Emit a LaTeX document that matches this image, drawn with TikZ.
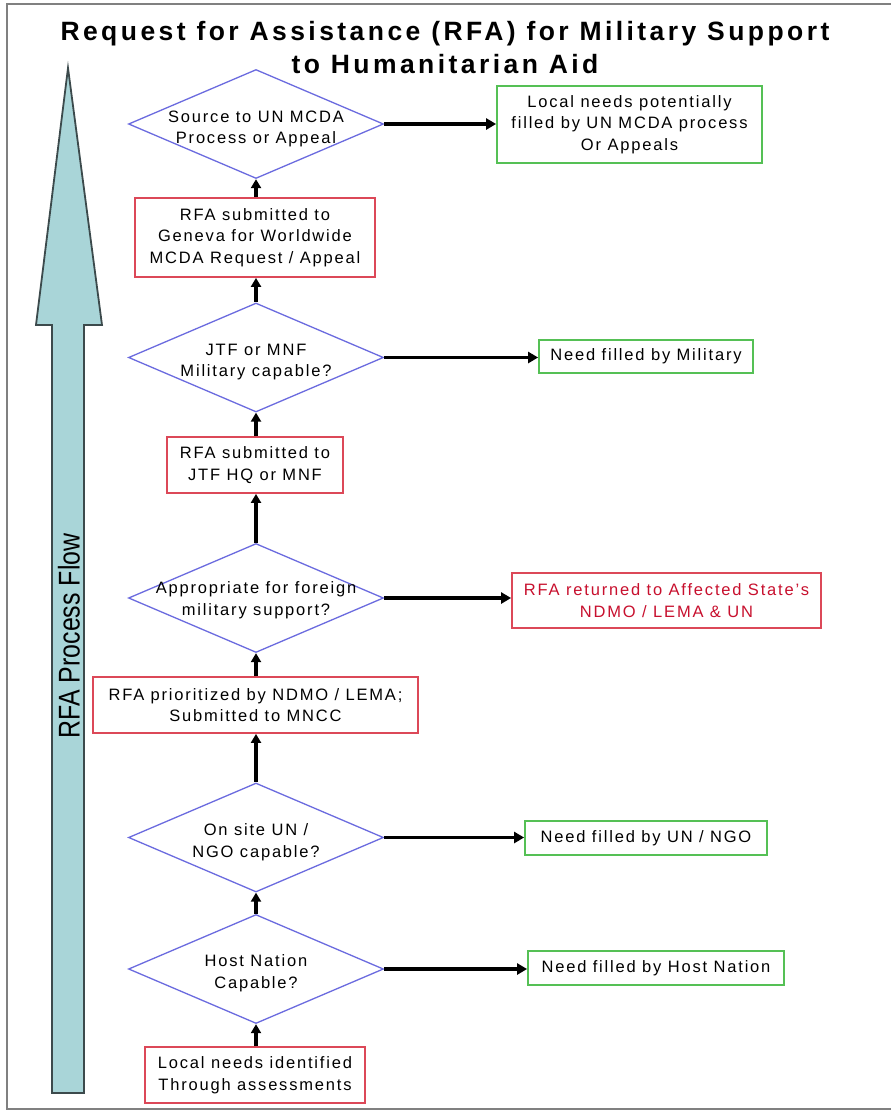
\documentclass[tikz,border=0pt]{standalone}
\usepackage{fontspec}
\setmainfont{Liberation Sans}[LetterSpace=11]
\usetikzlibrary{shapes.geometric,arrows.meta}
\definecolor{boxred}{HTML}{DC4858}
\definecolor{boxgreen}{HTML}{55C055}
\definecolor{diablue}{HTML}{6B6BDF}
\definecolor{txtred}{HTML}{C8102E}
\definecolor{flowfill}{HTML}{A9D5D8}
\definecolor{flowline}{HTML}{3C4A4C}
\definecolor{framegray}{HTML}{808080}
\begin{document}
\begin{tikzpicture}[x=1pt,y=-1pt,
  redbox/.style={draw=boxred, line width=1.8pt, rectangle, inner sep=0pt, align=center,
     font=\fontsize{16.5}{21.5}\selectfont},
  greenbox/.style={draw=boxgreen, line width=1.8pt, rectangle, inner sep=0pt, align=center,
     font=\fontsize{16.5}{21.5}\selectfont},
  dia/.style={draw=diablue, line width=1.3pt, diamond, inner sep=0pt,
     minimum width=255pt, minimum height=109pt},
  diatext/.style={align=center, inner sep=0pt, font=\fontsize{16.5}{21.5}\selectfont},
  conn/.style={draw=black, line width=3.2pt, -{Triangle[length=10pt,width=11pt]}},
  upconn/.style={draw=black, line width=3.2pt, -{Triangle[length=9pt,width=10pt]}}
]
\useasboundingbox (0,0) rectangle (891,1111);
\fill[white] (0,0) rectangle (891,1111);
\draw[framegray, line width=1.2pt] (891,4) -- (7,4) -- (7,1109) -- (891,1109);

% title
\node[align=center, font=\bfseries\fontsize{26.5}{33}\selectfont\addfontfeature{LetterSpace=13}] (title) at (445,48)
  {Request for Assistance (RFA) for Military Support\\to Humanitarian Aid};

% big process arrow
\draw[fill=flowfill, draw=flowline, line width=1.8pt, line join=miter]
  (68,68) -- (102,325) -- (84,325) -- (84,1093) -- (52,1093) -- (52,325) -- (36,325) -- cycle;
\node[rotate=90, inner sep=0pt] (flow) at (69,636)
  {\scalebox{0.83}[1]{\fontsize{30}{30}\selectfont\addfontfeature{LetterSpace=0}RFA Process Flow}};

% diamonds
\node[dia] (d1) at (256,124) {};
\node[diatext] (d1t) at (256,129) {Source to UN MCDA\\Process or Appeal};
\node[dia] (d2) at (256,357.5) {};
\node[diatext] (d2t) at (256,362) {JTF or MNF\\Military capable?};
\node[dia] (d3) at (256,598) {};
\node[diatext] (d3t) at (256,600) {Appropriate for foreign\\military support?};
\node[dia] (d4) at (256,837.5) {};
\node[diatext] (d4t) at (256,842) {On site UN /\\NGO capable?};
\node[dia] (d5) at (256,969) {};
\node[diatext] (d5t) at (256,973) {Host Nation\\Capable?};

% boxes
\node[greenbox, minimum width=265pt, minimum height=77pt] (bmcda) at (629.5,124.5)
  {Local needs potentially\\filled by UN MCDA process\\Or Appeals};
\node[redbox, minimum width=240pt, minimum height=79pt] (bgen) at (255,237.5)
  {RFA submitted to\\Geneva for Worldwide\\MCDA Request / Appeal};
\node[greenbox, minimum width=214pt, minimum height=33pt] (bmil) at (646,356.5)
  {Need filled by Military};
\node[redbox, minimum width=176pt, minimum height=56pt] (bjtf) at (255,465)
  {RFA submitted to\\JTF HQ or MNF};
\node[redbox, minimum width=309pt, minimum height=55pt, text=txtred] (bret) at (666.5,600.5)
  {RFA returned to Affected State's\\NDMO / LEMA \& UN};
\node[redbox, minimum width=325pt, minimum height=56pt] (bprio) at (255.5,705)
  {RFA prioritized by NDMO / LEMA;\\Submitted to MNCC};
\node[greenbox, minimum width=242pt, minimum height=34pt] (bungo) at (646,838)
  {Need filled by UN / NGO};
\node[greenbox, minimum width=256pt, minimum height=34pt] (bhn) at (656,968)
  {Need filled by Host Nation};
\node[redbox, minimum width=220pt, minimum height=56pt] (bloc) at (255,1075)
  {Local needs identified\\Through assessments};

% vertical (upward) connectors
\draw[upconn] (bloc.north -| d5.south) -- (d5.south);
\draw[upconn] (d5.north) -- (d4.south);
\draw[upconn] (d4.north) -- (d4.north |- bprio.south);
\draw[upconn] (bprio.north -| d3.south) -- (d3.south);
\draw[upconn] (d3.north) -- (d3.north |- bjtf.south);
\draw[upconn] (bjtf.north -| d2.south) -- (d2.south);
\draw[upconn] (d2.north) -- (d2.north |- bgen.south);
\draw[upconn] (bgen.north -| d1.south) -- (d1.south);

% horizontal connectors
\draw[conn] (d1.east) -- (d1.east -| bmcda.west);
\draw[conn] (d2.east) -- (d2.east -| bmil.west);
\draw[conn] (d3.east) -- (d3.east -| bret.west);
\draw[conn] (d4.east) -- (d4.east -| bungo.west);
\draw[conn] (d5.east) -- (d5.east -| bhn.west);
\end{tikzpicture}
\end{document}
